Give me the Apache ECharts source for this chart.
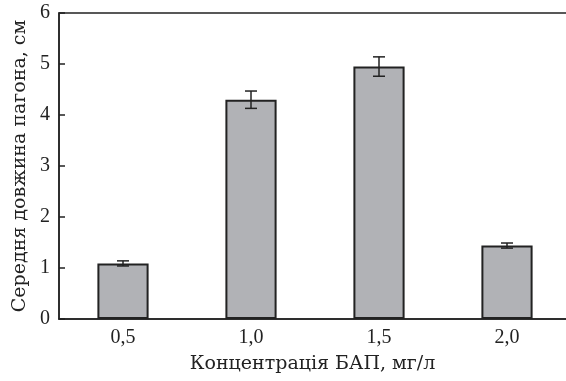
<!DOCTYPE html>
<html><head><meta charset="utf-8">
<script src="https://cdn.jsdelivr.net/npm/echarts@6/dist/echarts.min.js"></script>
<style>html,body{margin:0;padding:0;background:#fff}#c{width:566px;height:381px}</style>
</head><body><div id="c"></div>
<script>
const categories = ['0,5', '1,0', '1,5', '2,0'];
const means = [1.09, 4.30, 4.95, 1.44];
const errors = [0.05, 0.17, 0.19, 0.05];
const yTicks = [0, 1, 2, 3, 4, 5, 6];
const xTitle = 'Концентрація БАП, мг/л';
const yTitle = 'Середня довжина пагона, см';

const tickFont = '"Liberation Serif", "DejaVu Serif", serif';
const titleFont = '"DejaVu Serif", "Liberation Serif", serif';
const chart = echarts.init(document.getElementById('c'), null, {renderer: 'canvas'});
const errData = means.map((m, i) => [i, m - errors[i], m + errors[i]]);
chart.setOption({
  animation: false,
  grid: {left: 59, top: 13, right: -5, bottom: 62, outerBoundsMode: 'none', containLabel: false,
         show: true, borderColor: '#222', borderWidth: 1.5, backgroundColor: 'transparent'},
  xAxis: {
    type: 'category', data: categories,
    axisLine: {lineStyle: {color: '#222', width: 1.5}},
    axisTick: {inside: true, length: 6, lineStyle: {color: '#222', width: 1.5}},
    axisLabel: {color: '#222', fontFamily: tickFont, fontSize: 20, margin: 9},
    name: xTitle, nameLocation: 'middle', nameGap: 36,
    nameTextStyle: {color: '#222', fontFamily: titleFont, fontSize: 19, padding: [0, 5, 0, 0]}
  },
  yAxis: {
    type: 'value', min: yTicks[0], max: yTicks[yTicks.length - 1], interval: 1,
    axisLine: {show: true, lineStyle: {color: '#222', width: 1.5}},
    axisTick: {show: true, inside: true, length: 6, lineStyle: {color: '#222', width: 1.5}},
    splitLine: {show: false},
    axisLabel: {color: '#222', fontFamily: tickFont, fontSize: 20, margin: 9},
    name: yTitle, nameLocation: 'middle', nameGap: 28, nameRotate: 90,
    nameTextStyle: {color: '#222', fontFamily: titleFont, fontSize: 19}
  },
  series: [
    {
      type: 'bar', data: means, barWidth: '40%',
      itemStyle: {color: '#b1b2b6', borderColor: '#222', borderWidth: 2}
    },
    {
      type: 'custom', data: errData, z: 10,
      renderItem: function (params, api) {
        const x = api.value(0);
        const lo = api.coord([x, api.value(1)]);
        const hi = api.coord([x, api.value(2)]);
        const w = 6;
        const st = {stroke: '#222', lineWidth: 1.5};
        return {type: 'group', children: [
          {type: 'line', shape: {x1: hi[0], y1: hi[1], x2: lo[0], y2: lo[1]}, style: st},
          {type: 'line', shape: {x1: hi[0] - w, y1: hi[1], x2: hi[0] + w, y2: hi[1]}, style: st},
          {type: 'line', shape: {x1: lo[0] - w, y1: lo[1], x2: lo[0] + w, y2: lo[1]}, style: st}
        ]};
      }
    }
  ]
});
</script></body></html>
